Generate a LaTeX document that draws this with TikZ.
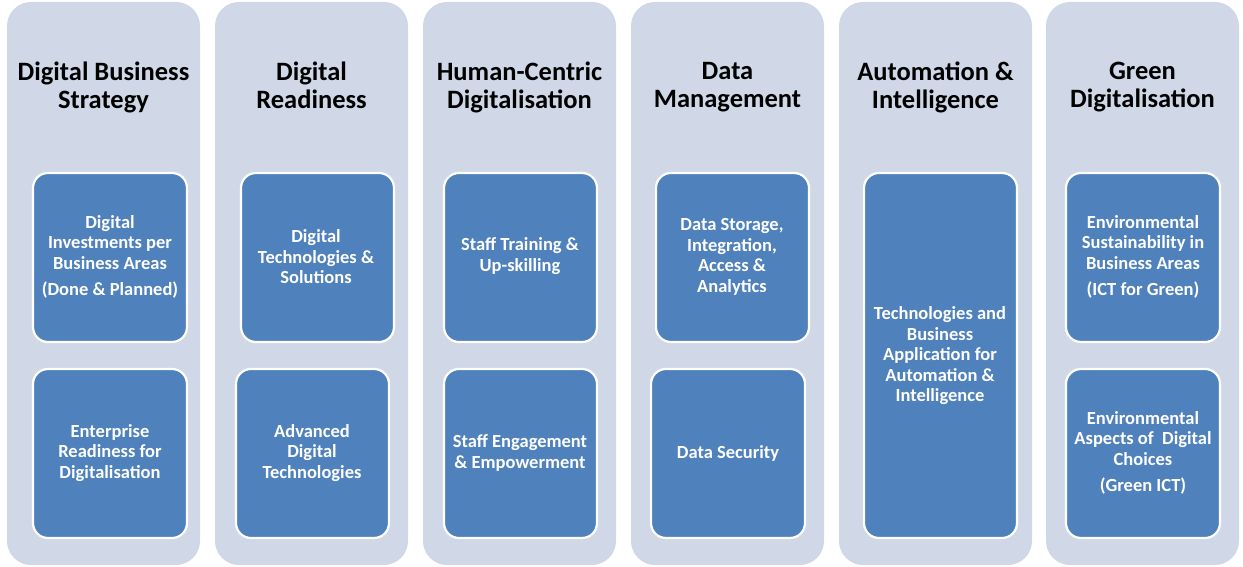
\documentclass[tikz,border=0pt]{standalone}
\usepackage{fontspec}
\setmainfont{Carlito}
\definecolor{colbg}{HTML}{D0D8E8}
\definecolor{boxbg}{HTML}{4F81BD}
\begin{document}
\begin{tikzpicture}[x=1pt,y=-1pt,
  column/.style={fill=colbg, rounded corners=24pt},
  itembox/.style={fill=boxbg, draw=white, line width=2.2pt, rounded corners=15pt},
  titletext/.style={font=\bfseries\fontsize{26.5}{28}\selectfont, align=center, text=black},
  itemtext/.style={font=\bfseries\fontsize{18.5}{20.5}\selectfont, align=center, text=white}]
\useasboundingbox (0,0) rectangle (1243,567);
% columns
\foreach \i/\x in {1/7,2/215,3/423,4/631,5/839,6/1046}{
  \path[column] (\x,2) rectangle ++(193,563);
}
% titles
\node[titletext] (t1) at (103.5,87.5) {Digital Business\\Strategy};
\node[titletext] (t2) at (311.5,85) {Digital\\Readiness};
\node[titletext] (t3) at (519.5,87.5) {Human-Centric\\Digitalisation};
\node[titletext] (t4) at (727.5,87.5) {Data\\Management};
\node[titletext] (t5) at (935.5,87.5) {Automation \&\\Intelligence};
\node[titletext] (t6) at (1142.5,87.5) {Green\\Digitalisation};
% boxes
\draw[itembox] (33,173) rectangle (187,342);
\draw[itembox] (33,369) rectangle (187,538);
\draw[itembox] (241,173) rectangle (394,342);
\draw[itembox] (236,369) rectangle (389,538);
\draw[itembox] (444,173) rectangle (597,342);
\draw[itembox] (444,369) rectangle (597,538);
\draw[itembox] (656,173) rectangle (809,342);
\draw[itembox] (651,369) rectangle (805,538);
\draw[itembox] (864,173) rectangle (1017,538);
\draw[itembox] (1066,173) rectangle (1220,342);
\draw[itembox] (1066,369) rectangle (1220,538);
% texts
\node[itemtext] (b11) at (110,257) {Digital\\Investments per\\Business Areas\\[6pt](Done \& Planned)};
\node[itemtext] (b12) at (110,453) {Enterprise\\Readiness for\\Digitalisation};
\node[itemtext] (b21) at (316,257) {Digital\\Technologies \&\\Solutions};
\node[itemtext] (b22) at (312,453) {Advanced\\Digital\\Technologies};
\node[itemtext] (b31) at (520,256) {Staff Training \&\\Up-skilling};
\node[itemtext] (b32) at (520,453) {Staff Engagement\\\& Empowerment};
\node[itemtext] (b41) at (732,257) {Data Storage,\\Integration,\\Access \&\\Analytics};
\node[itemtext] (b42) at (728,453) {Data Security};
\node[itemtext] (b51) at (940,356) {Technologies and\\Business\\Application for\\Automation \&\\Intelligence};
\node[itemtext] (b61) at (1143,257) {Environmental\\Sustainability in\\Business Areas\\[6pt](ICT for Green)};
\node[itemtext] (b62) at (1143,453) {Environmental\\Aspects of~ Digital\\Choices\\[6pt](Green ICT)};
\end{tikzpicture}
\end{document}
